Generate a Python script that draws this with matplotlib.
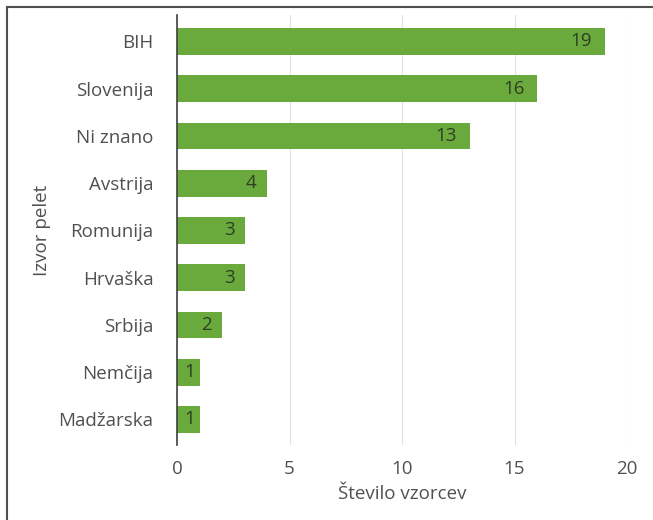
import matplotlib
matplotlib.use("Agg")
import matplotlib.pyplot as plt
from matplotlib.lines import Line2D

plt.rcParams['font.family'] = ['Open Sans', 'DejaVu Sans']

categories = ["BIH", "Slovenija", "Ni znano", "Avstrija", "Romunija", "Hrvaška", "Srbija", "Nemčija", "Madžarska"]
values = [19, 16, 13, 4, 3, 3, 2, 1, 1]
xticks = [0, 5, 10, 15, 20]
xlabel = "Število vzorcev"
ylabel = "Izvor pelet"

bar_color = "#6aaa3c"
text_color = "#505050"
fs = 13.5

fig = plt.figure(figsize=(6.53, 5.20), dpi=100)
ax = fig.add_axes([177/653, 1 - 445/520, (627-177)/653, (445-15)/520])

ypos = list(range(len(categories)))
ax.barh(ypos, values, height=0.57, color=bar_color, zorder=3)
ax.set_ylim(len(categories) - 0.5 + 0.04, -0.5 - 0.06)
ax.set_xlim(0, 20)
ax.set_yticks(ypos)
ax.set_yticklabels(categories, fontsize=fs, color=text_color)
ax.set_xticks(xticks)
ax.set_xticklabels([str(t) for t in xticks], fontsize=fs, color=text_color)
ax.tick_params(axis='both', length=0)
ax.tick_params(axis='y', pad=17)
ax.tick_params(axis='x', pad=11)
ax.xaxis.grid(True, color="#e0e0e0", linewidth=0.8, zorder=0)
for s in ["top", "right", "bottom"]:
    ax.spines[s].set_visible(False)
ax.spines["left"].set_color("#404040")
ax.spines["left"].set_linewidth(1.2)
ax.spines["left"].set_zorder(4)

for y, v in zip(ypos, values):
    if v >= 10:
        xr = v - 0.55
    elif v > 1:
        xr = v - 0.45
    else:
        xr = v - 0.22
    ax.text(xr, y, str(v), ha="right", va="center",
            fontsize=fs, color="#2f3f25", zorder=5)

ax.set_xlabel(xlabel, fontsize=fs, color=text_color, labelpad=5)
ax.set_ylabel(ylabel, fontsize=fs, color=text_color, labelpad=5)

# figure frame (top and left visible)
fig.add_artist(Line2D([7/653, 7/653], [0, 1 - 7/520], transform=fig.transFigure, color="#505050", linewidth=1.5))
fig.add_artist(Line2D([7/653, 1], [1 - 7/520, 1 - 7/520], transform=fig.transFigure, color="#505050", linewidth=1.5))

fig.savefig("out.png", dpi=100)
